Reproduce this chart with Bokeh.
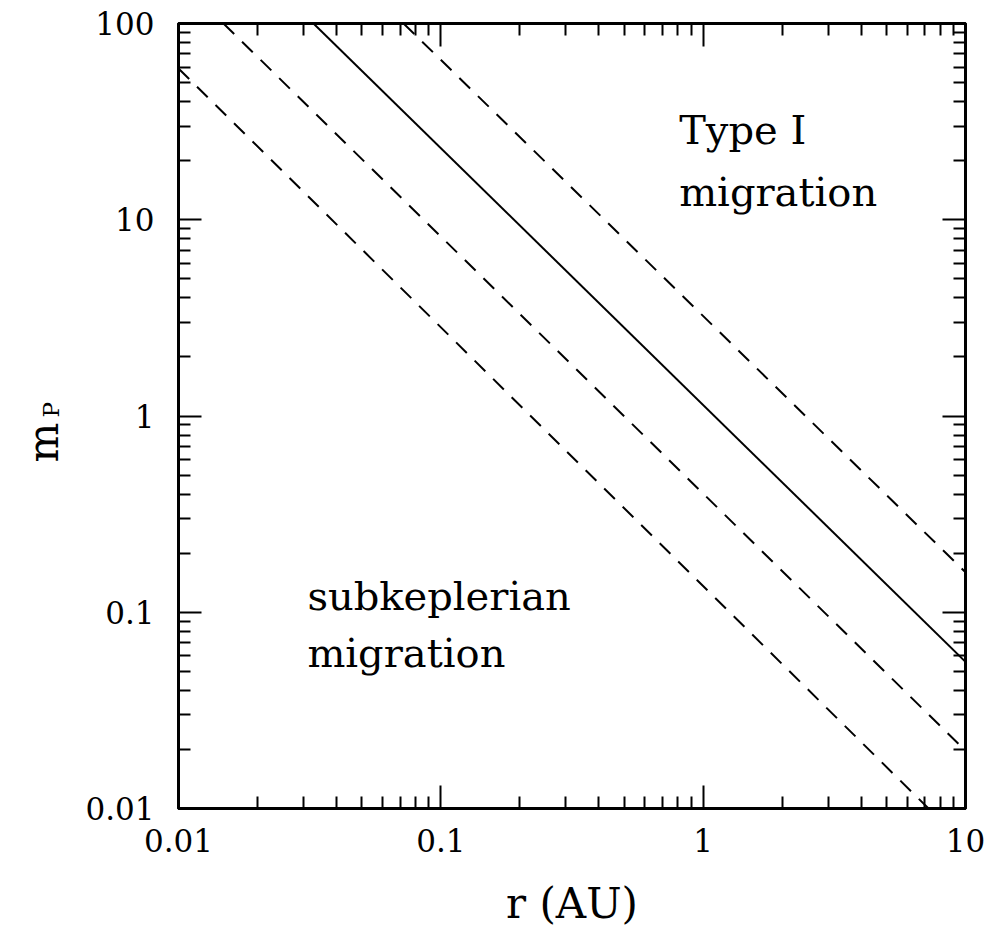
import math
from bokeh.plotting import figure
from bokeh.models import LogAxis, FixedTicker, Label, Range1d
from bokeh.layouts import row
from bokeh.core.properties import value
from bokeh.embed import file_html
from bokeh.resources import INLINE

# ---- data ----
x_major = [0.01, 0.1, 1, 10]
x_labels = ["0.01", "0.1", "1", "10"]
y_major = [0.01, 0.1, 1, 10, 100]
y_labels = ["0.01", "0.1", "1", "10", "100"]

r_solid = [0.0327, 10.0]
m_solid = [100.0, 0.0559]

r_dash_upper = [0.0721, 10.0]
m_dash_upper = [100.0, 0.160]

r_dash_mid = [0.01484, 10.0]
m_dash_mid = [100.0, 0.0197]

r_dash_low = [0.01, 7.23]
m_dash_low = [59.0, 0.01]

FONT = "DejaVu Serif"
H = 930
LW = 82  # width of the strip that holds the rotated y-axis title
TOP, BOTTOM = 23, 120
LEFT = 178  # page x of the frame's left edge
FRAME_W = 787
RIGHT = 25


def minors(major):
    return [k * d for d in major[:-1] for k in range(2, 10)]


p = figure(width=(LEFT - LW) + FRAME_W + RIGHT, height=H, x_axis_type="log", y_axis_type="log",
           x_range=Range1d(0.01, 10), y_range=Range1d(0.01, 100),
           output_backend="svg", toolbar_location=None,
           min_border_left=LEFT - LW, min_border_right=RIGHT,
           min_border_top=TOP, min_border_bottom=BOTTOM)

p.grid.visible = False
p.outline_line_color = "black"
p.outline_line_width = 3
p.background_fill_color = "white"
p.border_fill_color = "white"

xt = FixedTicker(ticks=x_major, minor_ticks=minors(x_major))
yt = FixedTicker(ticks=y_major, minor_ticks=minors(y_major))


def style(ax, ticker, labels, show):
    ax.ticker = ticker
    ax.axis_line_width = 3
    ax.axis_line_color = "black"
    ax.major_tick_in = 23
    ax.major_tick_out = 0
    ax.minor_tick_in = 12
    ax.minor_tick_out = 0
    ax.major_tick_line_width = 2
    ax.minor_tick_line_width = 2
    ax.major_tick_line_color = "black"
    ax.minor_tick_line_color = "black"
    ax.major_label_text_font = FONT
    if show:
        ax.major_label_overrides = {t: s for t, s in zip(ticker.ticks, labels)}
        ax.major_label_text_font_size = "31px"
        ax.major_label_text_color = "black"
    else:
        ax.major_label_text_font_size = "1px"
        ax.major_label_text_color = None
        ax.major_label_standoff = 0


xa = p.xaxis[0]
ya = p.yaxis[0]
style(xa, xt, x_labels, True)
style(ya, yt, y_labels, True)
xa.major_label_standoff = 20
ya.major_label_standoff = 24

xa.axis_label = "r (AU)"
xa.axis_label_text_font = FONT
xa.axis_label_text_font_size = "42px"
xa.axis_label_text_font_style = "normal"
xa.axis_label_text_color = "black"
xa.axis_label_standoff = 24

top = LogAxis()
style(top, xt, x_labels, False)
p.add_layout(top, "above")
right = LogAxis()
style(right, yt, y_labels, False)
p.add_layout(right, "right")

# ---- lines ----
p.line(r_solid, m_solid, line_color="black", line_width=2)
for rr, mm in [(r_dash_upper, m_dash_upper), (r_dash_mid, m_dash_mid), (r_dash_low, m_dash_low)]:
    p.line(rr, mm, line_color="black", line_width=2, line_dash="15 11")


# ---- annotations ----
def lab(text, x, y, size="40px"):
    p.add_layout(Label(x=x, y=y, text=text, text_font=FONT, text_font_size=size,
                       text_color="black", text_align="left",
                       text_baseline="alphabetic"))


lab("Type I", 0.81, 28.5)
lab("migration", 0.81, 13.85)
lab("subkeplerian", 0.031, 0.121)
lab("migration", 0.031, 0.062)

# ---- strip on the left holding the y-axis title m_P ----
# (its frame is aligned with the main frame by the row layout: y = H - page_y)
q = figure(width=LW, height=H, x_range=Range1d(0, LW), y_range=Range1d(BOTTOM, H - TOP),
           output_backend="svg", toolbar_location=None,
           x_axis_location=None, y_axis_location=None,
           min_border=0, min_border_left=0, min_border_right=0,
           min_border_top=TOP, min_border_bottom=BOTTOM)
q.grid.visible = False
q.outline_line_color = None
q.background_fill_color = "white"
q.border_fill_color = "white"
q.text(x=[43], y=[H - 463], text=["m"], angle=math.pi / 2,
       text_font=value(FONT), text_font_size="42px", text_color="black",
       text_align="left", text_baseline="alphabetic")
q.text(x=[50], y=[H - 418], text=["P"], angle=math.pi / 2,
       text_font=value(FONT), text_font_size="23px", text_color="black",
       text_align="left", text_baseline="alphabetic")

layout = row(q, p, spacing=0)
open("out.html", "w").write(file_html(layout, INLINE))
